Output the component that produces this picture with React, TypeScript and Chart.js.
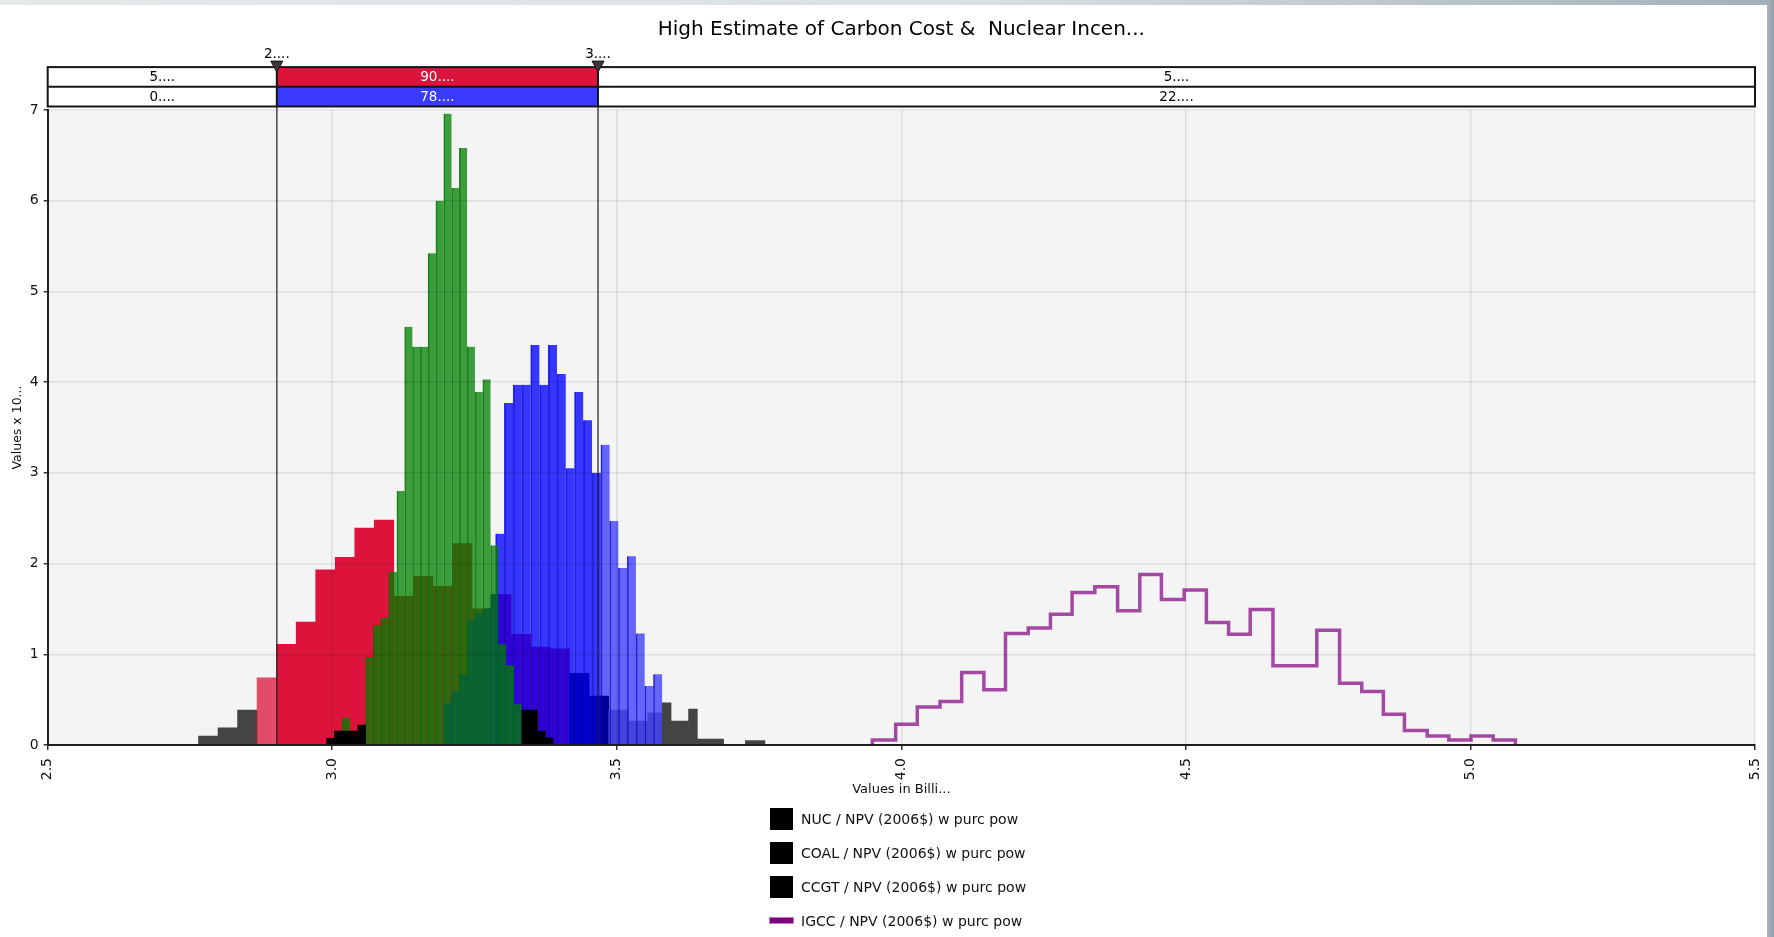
import React, { useEffect, useRef } from 'react';
import { Chart, registerables } from 'chart.js';

Chart.register(...registerables);

// ---------------- text ----------------
const chartTitle = 'High Estimate of Carbon Cost &  Nuclear Incen...';
const xAxisTitle = 'Values in Billi...';
const yAxisTitle = 'Values x 10...';
const xTickValues = [2.5, 3.0, 3.5, 4.0, 4.5, 5.0, 5.5];
const yTickValues = [0, 1, 2, 3, 4, 5, 6, 7];
const seriesNames = [
  'NUC / NPV (2006$) w purc pow',
  'COAL / NPV (2006$) w purc pow',
  'CCGT / NPV (2006$) w purc pow',
  'IGCC / NPV (2006$) w purc pow',
];

// ---------------- delimiters ----------------
const delimiterValues = [2.9026, 3.467];
const delimiterLabels = ['2....', '3....'];
const bandLeftLabels = ['5....', '0....'];
const bandMidLabels = ['90....', '78....'];
const bandRightLabels = ['5....', '22....'];

// ---------------- NUC (wide bins) ----------------
const nucBinMid = [2.7822, 2.8165, 2.8508, 2.8851, 2.9194, 2.9538, 2.9881, 3.0224, 3.0567, 3.091, 3.1254, 3.1597, 3.194, 3.2283, 3.2626, 3.297, 3.3313, 3.3656, 3.3999, 3.4342, 3.4686, 3.5029, 3.5372, 3.5715, 3.6058, 3.6402, 3.6745, 3.7088, 3.7431];
const nucDensity = [0.098, 0.19, 0.385, 0.74, 1.11, 1.355, 1.93, 2.07, 2.39, 2.48, 1.64, 1.86, 1.75, 2.22, 1.5, 1.66, 1.22, 1.08, 1.06, 0.79, 0.54, 0.385, 0.264, 0.356, 0, 0, 0, 0, 0.05];
const nucShade = ['tail', 'tail', 'tail', 'out', 'in', 'in', 'in', 'in', 'in', 'in', 'in', 'in', 'in', 'in', 'in', 'in', 'in', 'in', 'in', 'dark', 'dark', 'mid', 'mid', 'mid', 'tail', 'tail', 'tail', 'tail', 'tail'];

// ---------------- COAL (narrow bins) ----------------
const greenBinMid = [2.9969, 3.0106, 3.0243, 3.038, 3.0518, 3.0655, 3.0792, 3.0929, 3.1067, 3.1204, 3.1341, 3.1478, 3.1616, 3.1753, 3.189, 3.2028, 3.2165, 3.2302, 3.2439, 3.2577, 3.2714, 3.2851, 3.2988, 3.3126, 3.3263, 3.34, 3.3537, 3.3675, 3.3812, 3.3949];
const greenDensity = [0, 0, 0.3, 0, 0, 0.97, 1.32, 1.4, 1.91, 2.8, 4.61, 4.39, 4.39, 5.42, 6.0, 6.96, 6.14, 6.58, 4.39, 3.89, 4.03, 2.2, 1.11, 0.88, 0.45, 0, 0, 0, 0, 0];
const greenDarkDensity = [0.074, 0.154, 0.154, 0.154, 0.22, 0, 0, 0, 0, 0, 0, 0, 0, 0, 0, 0, 0, 0, 0, 0, 0, 0, 0, 0, 0, 0.385, 0.385, 0.154, 0.08, 0];
const blueUnderGreenDensity = [0, 0, 0, 0, 0, 0, 0, 0, 0, 0, 0, 0, 0, 0, 0, 0.46, 0.59, 0.78, 1.37, 1.44, 1.5, 1.66, 0, 0, 0, 0, 0, 0, 0, 0];

// ---------------- CCGT (medium bins) ----------------
const blueBinMid = [3.2947, 3.3101, 3.3255, 3.3409, 3.3564, 3.3718, 3.3872, 3.4026, 3.418, 3.4334, 3.4488, 3.4642, 3.4797, 3.4951, 3.5105, 3.5259, 3.5413, 3.5567, 3.5721];
const blueDensity = [2.33, 3.77, 3.97, 3.97, 4.41, 3.97, 4.41, 4.09, 3.05, 3.89, 3.58, 3.0, 3.31, 2.47, 1.95, 2.08, 1.23, 0.65, 0.78];
const blueTailMid = [3.5876, 3.603, 3.6184, 3.6338, 3.6492, 3.6646, 3.68];
const blueTailDensity = [0.466, 0.264, 0.264, 0.397, 0.066, 0.066, 0.066];

// ---------------- IGCC (outline) ----------------
const igccBinEdges = [3.949, 3.99, 4.028, 4.068, 4.106, 4.145, 4.183, 4.223, 4.262, 4.3, 4.34, 4.38, 4.419, 4.457, 4.497, 4.536, 4.575, 4.613, 4.653, 4.692, 4.73, 4.77, 4.809, 4.847, 4.884, 4.924, 4.962, 5.001, 5.04, 5.079];
const igccDensity = [0.055, 0.23, 0.42, 0.48, 0.8, 0.61, 1.23, 1.29, 1.44, 1.68, 1.745, 1.48, 1.88, 1.605, 1.71, 1.35, 1.22, 1.495, 0.875, 0.875, 1.265, 0.68, 0.59, 0.34, 0.16, 0.1, 0.055, 0.1, 0.055];

// ---------------- styles ----------------
const FONT = "'DejaVu Sans', Verdana, sans-serif";
const NUC_PALETTE: Record<string, string> = {
  tail: '#444444',
  out: 'rgba(220,20,60,0.75)',
  in: '#DC143C',
  dark: '#000000',
  mid: '#A3A3AA',
};
const GREEN = 'rgba(0,128,0,0.75)';
const GREEN_EDGE = 'rgba(0,110,0,0.85)';
const BLUE_IN = 'rgba(0,0,255,0.78)';
const BLUE_OUT = 'rgba(0,0,255,0.585)';
const BLUE_EDGE = 'rgba(0,0,190,0.8)';
const GRID = 'rgba(0,0,0,0.09)';

const plotBgPlugin = {
  id: 'plotBg',
  beforeDraw(chart: any) {
    const { ctx, chartArea } = chart;
    if (!chartArea) return;
    ctx.save();
    ctx.fillStyle = '#F4F4F4';
    ctx.fillRect(chartArea.left, chartArea.top, chartArea.right - chartArea.left, chartArea.bottom - chartArea.top);
    ctx.restore();
  },
};

const delimiterPlugin = {
  id: 'delimiterBand',
  afterDraw(chart: any) {
    const { ctx, chartArea } = chart;
    const xs = chart.scales.x;
    const { left, right, top, bottom } = chartArea;
    const d = delimiterValues.map((v) => xs.getPixelForValue(v));
    const rowH = 19.7;
    const bandBottom = top - 3.5;
    const bandTop = bandBottom - 2 * rowH;
    ctx.save();
    ctx.strokeStyle = 'rgba(30,30,30,0.8)';
    ctx.lineWidth = 1.5;
    d.forEach((x) => {
      ctx.beginPath();
      ctx.moveTo(x, bandBottom);
      ctx.lineTo(x, bottom);
      ctx.stroke();
    });
    const segs = [[left, d[0]], [d[0], d[1]], [d[1], right]];
    const rowFill = [['#FFFFFF', '#DC143C', '#FFFFFF'], ['#FFFFFF', '#3B3BFF', '#FFFFFF']];
    const rowText = [
      [bandLeftLabels[0], bandMidLabels[0], bandRightLabels[0]],
      [bandLeftLabels[1], bandMidLabels[1], bandRightLabels[1]],
    ];
    ctx.font = `13.5px ${FONT}`;
    ctx.textAlign = 'center';
    ctx.textBaseline = 'middle';
    for (let r = 0; r < 2; r++) {
      const y0 = bandTop + r * rowH;
      segs.forEach(([a, b], s) => {
        ctx.fillStyle = rowFill[r][s];
        ctx.fillRect(a, y0, b - a, rowH);
        ctx.fillStyle = s === 1 ? '#FFFFFF' : '#000000';
        ctx.fillText(rowText[r][s], (a + b) / 2, y0 + rowH / 2 + 0.5);
      });
    }
    ctx.strokeStyle = '#151515';
    ctx.lineWidth = 2;
    ctx.strokeRect(left, bandTop, right - left, 2 * rowH);
    ctx.beginPath();
    ctx.moveTo(left, bandTop + rowH);
    ctx.lineTo(right, bandTop + rowH);
    ctx.stroke();
    d.forEach((x) => {
      ctx.beginPath();
      ctx.moveTo(x, bandTop);
      ctx.lineTo(x, bandBottom);
      ctx.stroke();
    });
    d.forEach((x, i) => {
      ctx.beginPath();
      ctx.moveTo(x - 6, bandTop - 6);
      ctx.lineTo(x + 6, bandTop - 6);
      ctx.lineTo(x, bandTop + 5);
      ctx.closePath();
      ctx.fillStyle = '#3A3A3A';
      ctx.fill();
      ctx.strokeStyle = '#111';
      ctx.lineWidth = 1;
      ctx.stroke();
      ctx.fillStyle = '#000';
      ctx.textBaseline = 'alphabetic';
      ctx.fillText(delimiterLabels[i], x, bandTop - 9.5);
    });
    ctx.restore();
  },
};

const hiddenX = () => ({
  type: 'linear',
  position: 'bottom',
  min: 2.5,
  max: 5.5,
  offset: false,
  display: false,
  grid: { offset: false },
});

const barCommon = {
  type: 'bar',
  grouped: false,
  barPercentage: 1,
  categoryPercentage: 1,
  yAxisID: 'y',
};

export default function App() {
  const canvasRef = useRef<HTMLCanvasElement | null>(null);

  useEffect(() => {
    const canvas = canvasRef.current;
    if (!canvas) return;
    Chart.defaults.font.family = FONT;

    const igccPoints = [
      { x: igccBinEdges[0], y: 0 },
      ...igccDensity.map((h, i) => ({ x: igccBinEdges[i], y: h })),
      { x: igccBinEdges[igccBinEdges.length - 1], y: 0 },
    ];

    const chart = new Chart(canvas, {
      type: 'bar',
      data: {
        datasets: [
          {
            ...barCommon,
            label: 'NUC',
            xAxisID: 'xNuc',
            data: nucBinMid.map((x, i) => ({ x, y: nucDensity[i] })),
            backgroundColor: nucShade.map((s) => NUC_PALETTE[s]),
            borderWidth: 0,
            order: 10,
          },
          {
            ...barCommon,
            label: 'CCGT low',
            xAxisID: 'xGreen',
            data: greenBinMid.map((x, i) => ({ x, y: blueUnderGreenDensity[i] })),
            backgroundColor: BLUE_IN,
            borderWidth: 0,
            order: 9,
          },
          {
            ...barCommon,
            label: 'CCGT',
            xAxisID: 'xBlue',
            data: blueBinMid.map((x, i) => ({ x, y: blueDensity[i] })),
            backgroundColor: blueBinMid.map((x) => (x <= delimiterValues[1] ? BLUE_IN : BLUE_OUT)),
            borderColor: BLUE_EDGE,
            borderWidth: { left: 1, right: 0, top: 0, bottom: 0 },
            order: 8,
          },
          {
            ...barCommon,
            label: 'COAL',
            xAxisID: 'xGreen',
            data: greenBinMid.map((x, i) => ({ x, y: greenDensity[i] })),
            backgroundColor: GREEN,
            borderColor: GREEN_EDGE,
            borderWidth: { left: 1, right: 0, top: 0, bottom: 0 },
            order: 7,
          },
          {
            ...barCommon,
            label: 'COAL tails',
            xAxisID: 'xGreen',
            data: greenBinMid.map((x, i) => ({ x, y: greenDarkDensity[i] })),
            backgroundColor: '#000000',
            borderWidth: 0,
            order: 6,
          },
          {
            ...barCommon,
            label: 'CCGT tail',
            xAxisID: 'xBlue',
            data: blueTailMid.map((x, i) => ({ x, y: blueTailDensity[i] })),
            backgroundColor: '#444444',
            borderWidth: 0,
            order: 5,
          },
          {
            type: 'line',
            label: 'IGCC',
            xAxisID: 'x',
            yAxisID: 'y',
            data: igccPoints,
            stepped: 'before',
            borderColor: 'rgba(128,0,128,0.7)',
            borderWidth: 3.5,
            pointRadius: 0,
            fill: false,
            tension: 0,
            order: 4,
          },
        ] as any,
      },
      options: {
        animation: false,
        responsive: false,
        devicePixelRatio: 1,
        events: [],
        layout: { padding: { left: 0, right: 19, top: 0, bottom: 138 } },
        plugins: {
          legend: { display: false },
          tooltip: { enabled: false },
          title: {
            display: true,
            fullSize: false,
            text: chartTitle,
            color: '#000',
            font: { size: 20, weight: 'normal', family: FONT },
            padding: { top: 18, bottom: 68 },
          },
        },
        scales: {
          x: {
            type: 'linear',
            position: 'bottom',
            min: 2.5,
            max: 5.5,
            offset: false,
            afterBuildTicks: (s: any) => {
              s.ticks = xTickValues.map((v) => ({ value: v }));
            },
            afterFit: (s: any) => {
              s.height = 54;
              s.paddingLeft = 0;
              s.paddingRight = 0;
            },
            ticks: {
              autoSkip: false,
              minRotation: 90,
              maxRotation: 90,
              padding: 8,
              color: '#111',
              font: { size: 14 },
              callback: (v: any) => Number(v).toFixed(1),
            },
            grid: { color: GRID, lineWidth: 1.5, z: 1, tickLength: 5, tickColor: '#333', tickWidth: 1.5, offset: false },
            border: { display: true, color: '#222', width: 2, z: 1 },
            title: { display: true, text: xAxisTitle, color: '#111', font: { size: 13 }, padding: { top: 2, bottom: 2 } },
          },
          xNuc: hiddenX(),
          xGreen: hiddenX(),
          xBlue: hiddenX(),
          y: {
            type: 'linear',
            position: 'left',
            min: 0,
            max: 7,
            afterBuildTicks: (s: any) => {
              s.ticks = yTickValues.map((v) => ({ value: v }));
            },
            afterFit: (s: any) => {
              s.width = 47.7;
              s.paddingTop = 0;
              s.paddingBottom = 0;
            },
            ticks: { padding: 5, color: '#111', font: { size: 14 } },
            grid: { color: GRID, lineWidth: 1.5, z: 1, tickLength: 4, tickColor: '#333', tickWidth: 1.5 },
            border: { display: true, color: '#222', width: 2, z: 1 },
            title: { display: true, text: yAxisTitle, color: '#111', font: { size: 12.5 }, padding: { top: 10, bottom: 0 } },
          },
        },
      } as any,
      plugins: [plotBgPlugin, delimiterPlugin],
    });

    return () => {
      chart.destroy();
    };
  }, []);

  const legendTop = 807;
  return (
    <div style={{ position: 'fixed', left: 0, top: 0, width: 1774, height: 937, background: '#FFFFFF', overflow: 'hidden' }}>
      <canvas ref={canvasRef} width={1774} height={937} style={{ position: 'absolute', left: 0, top: 0, width: 1774, height: 937 }} />
      {seriesNames.map((name, i) => (
        <div
          key={name}
          style={{
            position: 'absolute',
            left: 770,
            top: legendTop + i * 34,
            height: 23,
            display: 'flex',
            alignItems: 'center',
            fontFamily: FONT,
            fontSize: 14,
            color: '#111',
            whiteSpace: 'nowrap',
          }}
        >
          {i < 3 ? (
            <div style={{ width: 23, height: 22, background: '#000' }} />
          ) : (
            <div style={{ width: 23, height: 22, display: 'flex', alignItems: 'center' }}>
              <div style={{ width: 23, height: 5, background: '#800080', boxShadow: '0 0 0 1px rgba(176,96,176,0.8)' }} />
            </div>
          )}
          <span style={{ marginLeft: 8 }}>{name}</span>
        </div>
      ))}
      <div style={{ position: 'absolute', left: 0, top: 0, width: 1774, height: 5, background: 'linear-gradient(to right, #E4E9EC 0%, #D9E0E4 55%, #A3B0B8 100%)' }} />
      <div style={{ position: 'absolute', left: 1767, top: 0, width: 7, height: 937, background: 'linear-gradient(to right, #A9B5BC, #8E9EA7)' }} />
    </div>
  );
}
